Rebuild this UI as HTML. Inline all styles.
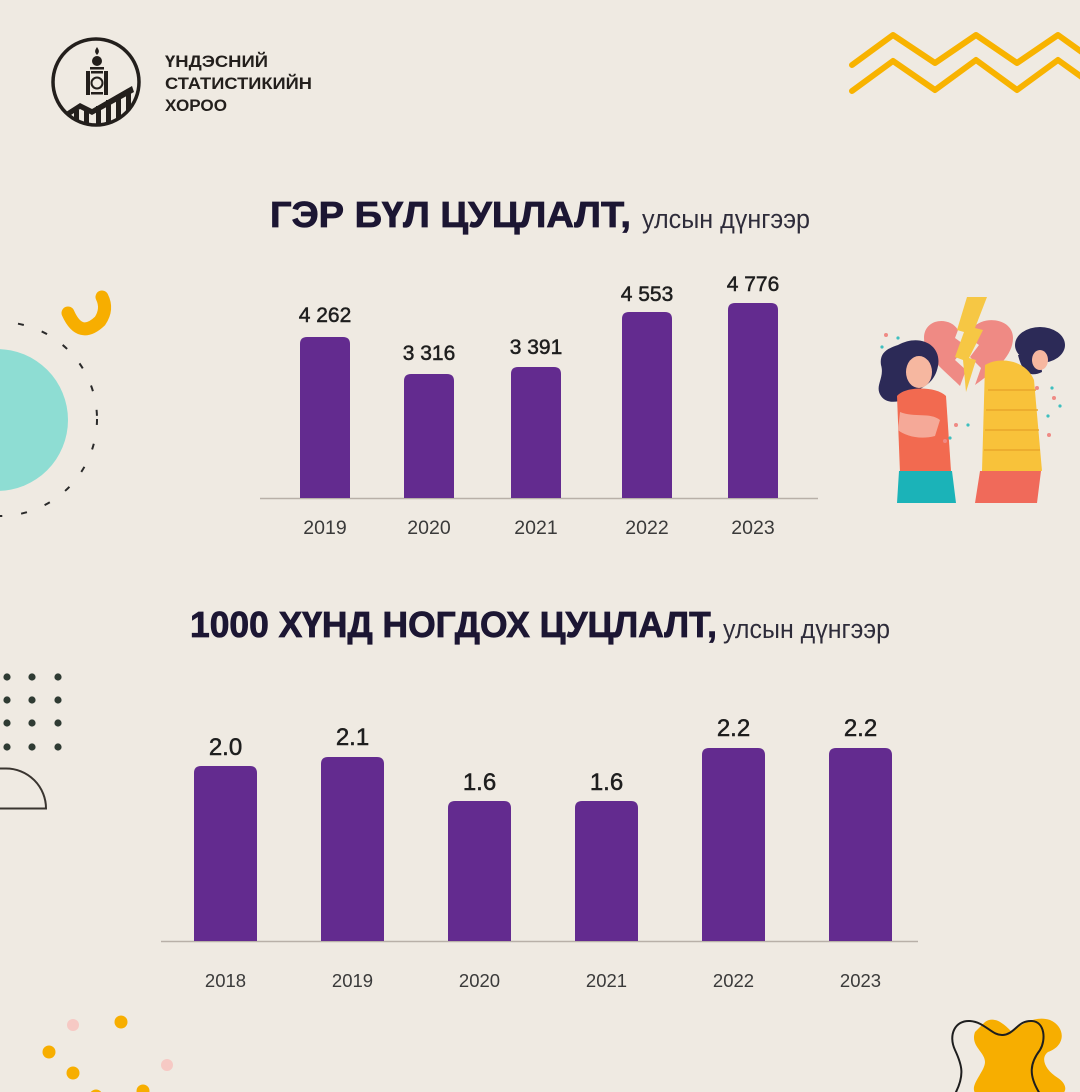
<!DOCTYPE html>
<html><head><meta charset="utf-8">
<style>
html,body{margin:0;padding:0;background:#EFEAE2;}
svg{display:block;}
text{font-family:"Liberation Sans","DejaVu Sans",sans-serif;}
</style></head>
<body>
<svg width="1080" height="1092" viewBox="0 0 1080 1092" xmlns="http://www.w3.org/2000/svg">
<rect width="1080" height="1092" fill="#EFEAE2"/>

<!-- Logo -->
<g>
  <circle cx="96" cy="82" r="43" fill="none" stroke="#231f1c" stroke-width="3.5"/>
  <clipPath id="lc"><circle cx="96" cy="82" r="42"/></clipPath>
  <g clip-path="url(#lc)" fill="#231f1c">
    <polygon points="66,112 80,103 92,109 132,86 134,92 92,115 80,109 68,117"/>
    <rect x="74" y="110" width="5" height="20"/>
    <rect x="84" y="108" width="5" height="22"/>
    <rect x="96" y="106" width="5" height="24"/>
    <rect x="106" y="100" width="5" height="30"/>
    <rect x="116" y="95" width="5" height="35"/>
    <rect x="126" y="90" width="5" height="40"/>
  </g>
  <g fill="#231f1c">
    <path d="M97,47 C99,50 100,52 97,55 C94,52 95,50 97,47Z"/>
    <circle cx="97" cy="61" r="5"/>
    <rect x="90" y="67" width="14" height="2.5"/>
    <rect x="86" y="71" width="4" height="24"/>
    <rect x="104" y="71" width="4" height="24"/>
    <rect x="91" y="71" width="12" height="2.5"/>
    <rect x="91" y="92" width="12" height="2.5"/>
    <circle cx="97" cy="83" r="5.5" fill="none" stroke="#231f1c" stroke-width="2"/>
  </g>
  <text x="165" y="67" font-size="16.5" font-weight="bold" fill="#231f1c" textLength="103" lengthAdjust="spacingAndGlyphs">ҮНДЭСНИЙ</text>
  <text x="165" y="89" font-size="16.5" font-weight="bold" fill="#231f1c" textLength="147" lengthAdjust="spacingAndGlyphs">СТАТИСТИКИЙН</text>
  <text x="165" y="111" font-size="16.5" font-weight="bold" fill="#231f1c" textLength="62" lengthAdjust="spacingAndGlyphs">ХОРОО</text>
</g>

<!-- Zigzags -->
<g fill="none" stroke="#F8B300" stroke-width="6" stroke-linecap="round" stroke-linejoin="round">
  <polyline points="852,65 893,35 935,63 976,35 1017,63 1058,35 1090,58"/>
  <polyline points="852,91 893,61 935,90 976,60 1017,90 1058,60 1090,83"/>
</g>

<!-- Left decorations -->
<circle cx="-3" cy="420" r="71" fill="#8EDDD3"/>
<circle cx="0" cy="419" r="97" fill="none" stroke="#2a2a2a" stroke-width="2" stroke-dasharray="6 19"/>
<path d="M68,313 Q80,340 100,321 Q108,309 102,297" fill="none" stroke="#F7AE00" stroke-width="13" stroke-linecap="round"/>

<g fill="#2f3b33">
  <circle cx="7" cy="677" r="3.6"/><circle cx="32" cy="677" r="3.6"/><circle cx="58" cy="677" r="3.6"/>
  <circle cx="7" cy="700" r="3.6"/><circle cx="32" cy="700" r="3.6"/><circle cx="58" cy="700" r="3.6"/>
  <circle cx="7" cy="723" r="3.6"/><circle cx="32" cy="723" r="3.6"/><circle cx="58" cy="723" r="3.6"/>
  <circle cx="7" cy="747" r="3.6"/><circle cx="32" cy="747" r="3.6"/><circle cx="58" cy="747" r="3.6"/>
</g>
<path d="M-2,808.5 H46 A40,40 0 0 0 6,768.5 L-2,768.5" fill="none" stroke="#3a3530" stroke-width="2"/>

<!-- bottom-left dots -->
<circle cx="73" cy="1025" r="6" fill="#F6C9C4"/>
<circle cx="121" cy="1022" r="6.5" fill="#F7AE00"/>
<circle cx="49" cy="1052" r="6.5" fill="#F7AE00"/>
<circle cx="167" cy="1065" r="6" fill="#F6C9C4"/>
<circle cx="73" cy="1073" r="6.5" fill="#F7AE00"/>
<circle cx="96" cy="1096" r="6.5" fill="#F7AE00"/>
<circle cx="143" cy="1091" r="6.5" fill="#F7AE00"/>

<!-- bottom-right shape -->
<path d="M985,1022 C995,1015 1005,1025 1012,1032 C1020,1025 1035,1015 1050,1020 C1066,1027 1066,1046 1048,1052 C1040,1058 1045,1070 1058,1078 C1068,1085 1066,1092 1062,1094 L976,1094 C968,1086 985,1072 985,1062 C985,1052 970,1046 975,1032 Z" fill="#F7AE00"/>
<path d="M955,1094 C965,1075 962,1065 955,1050 C948,1035 955,1020 970,1021 C985,1022 992,1036 1003,1035 C1015,1034 1018,1020 1032,1021 C1045,1022 1046,1040 1040,1050 C1030,1063 1028,1075 1040,1094" fill="none" stroke="#1e1e1e" stroke-width="2"/>

<!-- Illustration -->
<g>
  <path d="M958,330 C950,316 924,318 924,338 C924,356 944,370 960,386 L966,370 L955,360 L966,346 L955,338 Z" fill="#EF8A84"/>
  <path d="M973,328 C983,315 1013,318 1013,338 C1013,357 993,372 975,385 L981,368 L970,357 L979,345 L969,338 Z" fill="#EF8A84"/>
  <polygon points="967,297 987,297 975,328 983,330 969,358 976,360 966,392 963,360 955,357 964,332 957,330" fill="#F6C744"/>
  <!-- woman -->
  <path d="M898,345 C920,333 942,345 938,366 C935,382 925,386 915,392 C905,402 888,406 881,396 C874,386 885,378 881,365 C879,352 889,348 898,345 Z" fill="#2c2a57"/>
  <ellipse cx="919" cy="372" rx="13" ry="16" fill="#F6B7A0"/>
  <path d="M897,396 C905,386 936,386 946,396 L951,471 L900,473 Z" fill="#F26A50"/>
  <path d="M900,412 C915,418 930,412 940,420 L935,436 C920,440 905,436 898,430 Z" fill="#F5A998"/>
  <path d="M899,471 L952,471 L956,503 L897,503 Z" fill="#1BB3B8"/>
  <!-- man -->
  <ellipse cx="1040" cy="345" rx="25" ry="18" fill="#2c2a57"/>
  <path d="M1018,355 C1022,372 1030,378 1042,372 L1040,355 Z" fill="#2c2a57"/>
  <ellipse cx="1040" cy="360" rx="8" ry="10" fill="#F6B7A0"/>
  <path d="M985,365 C1000,356 1026,360 1034,380 L1042,471 L982,471 Z" fill="#F8C23A"/>
  <g stroke="#E9A62A" stroke-width="1.5">
    <line x1="988" y1="390" x2="1036" y2="390"/><line x1="986" y1="410" x2="1038" y2="410"/>
    <line x1="985" y1="430" x2="1039" y2="430"/><line x1="984" y1="450" x2="1040" y2="450"/>
  </g>
  <path d="M980,471 L1041,471 L1037,503 L975,503 Z" fill="#F06A5A"/>
  <g>
    <circle cx="886" cy="335" r="2" fill="#EF8A84"/><circle cx="898" cy="338" r="1.6" fill="#3fbfbf"/>
    <circle cx="882" cy="347" r="1.6" fill="#3fbfbf"/><circle cx="956" cy="425" r="2" fill="#EF8A84"/>
    <circle cx="968" cy="425" r="1.6" fill="#3fbfbf"/><circle cx="950" cy="438" r="1.6" fill="#3fbfbf"/>
    <circle cx="945" cy="441" r="2" fill="#EF8A84"/><circle cx="1037" cy="388" r="2" fill="#EF8A84"/>
    <circle cx="1052" cy="388" r="1.6" fill="#3fbfbf"/><circle cx="1054" cy="398" r="2" fill="#EF8A84"/>
    <circle cx="1060" cy="406" r="1.6" fill="#3fbfbf"/><circle cx="1048" cy="416" r="1.6" fill="#3fbfbf"/>
    <circle cx="1049" cy="435" r="2" fill="#EF8A84"/>
  </g>
</g>

<!-- Title 1 -->
<text x="270" y="227" font-size="36" font-weight="bold" fill="#1c1633" stroke="#1c1633" stroke-width="0.8" textLength="361" lengthAdjust="spacingAndGlyphs">ГЭР БҮЛ ЦУЦЛАЛТ,</text>
<text x="642" y="228" font-size="27" fill="#2e2c3a" textLength="168" lengthAdjust="spacingAndGlyphs">улсын дүнгээр</text>

<!-- Chart 1 -->
<line x1="260" y1="498.5" x2="818" y2="498.5" stroke="#b8b0a8" stroke-width="1.5"/>
<g fill="#632B8F">
  <path d="M300,498 V344 Q300,337 307,337 H343 Q350,337 350,344 V498 Z"/>
  <path d="M404,498 V381 Q404,374 411,374 H447 Q454,374 454,381 V498 Z"/>
  <path d="M511,498 V374 Q511,367 518,367 H554 Q561,367 561,374 V498 Z"/>
  <path d="M622,498 V319 Q622,312 629,312 H665 Q672,312 672,319 V498 Z"/>
  <path d="M728,498 V310 Q728,303 735,303 H771 Q778,303 778,310 V498 Z"/>
</g>
<g font-size="21" fill="#1e1e1e" text-anchor="middle" stroke="#1e1e1e" stroke-width="0.5">
  <text x="325" y="322">4 262</text>
  <text x="429" y="360">3 316</text>
  <text x="536" y="354">3 391</text>
  <text x="647" y="301">4 553</text>
  <text x="753" y="291">4 776</text>
</g>
<g font-size="19.5" fill="#3a3a3a" text-anchor="middle">
  <text x="325" y="534">2019</text>
  <text x="429" y="534">2020</text>
  <text x="536" y="534">2021</text>
  <text x="647" y="534">2022</text>
  <text x="753" y="534">2023</text>
</g>

<!-- Title 2 -->
<text x="190" y="637" font-size="36" font-weight="bold" fill="#1c1633" stroke="#1c1633" stroke-width="0.8" textLength="527" lengthAdjust="spacingAndGlyphs">1000 ХҮНД НОГДОХ ЦУЦЛАЛТ,</text>
<text x="723" y="638" font-size="27" fill="#2e2c3a" textLength="167" lengthAdjust="spacingAndGlyphs">улсын дүнгээр</text>

<!-- Chart 2 -->
<line x1="161" y1="941.5" x2="918" y2="941.5" stroke="#b8b0a8" stroke-width="1.5"/>
<g fill="#632B8F">
  <path d="M194,941 V773 Q194,766 201,766 H250 Q257,766 257,773 V941 Z"/>
  <path d="M321,941 V764 Q321,757 328,757 H377 Q384,757 384,764 V941 Z"/>
  <path d="M448,941 V808 Q448,801 455,801 H504 Q511,801 511,808 V941 Z"/>
  <path d="M575,941 V808 Q575,801 582,801 H631 Q638,801 638,808 V941 Z"/>
  <path d="M702,941 V755 Q702,748 709,748 H758 Q765,748 765,755 V941 Z"/>
  <path d="M829,941 V755 Q829,748 836,748 H885 Q892,748 892,755 V941 Z"/>
</g>
<g font-size="24" fill="#1e1e1e" text-anchor="middle" stroke="#1e1e1e" stroke-width="0.5">
  <text x="225.5" y="755">2.0</text>
  <text x="352.5" y="745">2.1</text>
  <text x="479.5" y="790">1.6</text>
  <text x="606.5" y="790">1.6</text>
  <text x="733.5" y="736">2.2</text>
  <text x="860.5" y="736">2.2</text>
</g>
<g font-size="18.5" fill="#3a3a3a" text-anchor="middle">
  <text x="225.5" y="987">2018</text>
  <text x="352.5" y="987">2019</text>
  <text x="479.5" y="987">2020</text>
  <text x="606.5" y="987">2021</text>
  <text x="733.5" y="987">2022</text>
  <text x="860.5" y="987">2023</text>
</g>
</svg>
</body></html>
